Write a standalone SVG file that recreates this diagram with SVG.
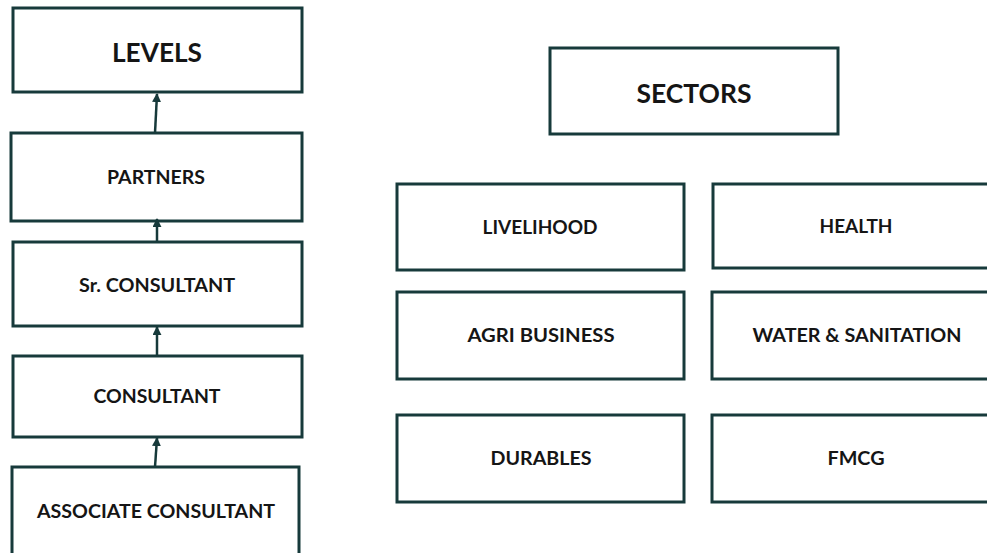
<svg xmlns="http://www.w3.org/2000/svg" width="987" height="553" viewBox="0 0 987 553">
  <style>
    .box { fill: #ffffff; stroke: #173a3b; stroke-width: 3; }
    .lbl { font-family: Lato, "Open Sans", "Liberation Sans", sans-serif; font-weight: 700; fill: #151515; text-anchor: middle; font-size: 19px; }
    .big { font-size: 27px; }
    .link { stroke: #173a3b; stroke-width: 2.5; fill: none; marker-end: url(#tip); }
  </style>
  <defs>
    <marker id="tip" viewBox="0 0 10 10" refX="9" refY="5" markerWidth="3.6" markerHeight="3.6" orient="auto" markerUnits="strokeWidth">
      <path d="M0,0 L10,5 L0,10 Z" fill="#173a3b"/>
    </marker>
  </defs>
  <rect width="987" height="553" fill="#ffffff"/>

  <!-- hierarchy of levels -->
  <g id="levels">
    <rect class="box" x="13" y="8" width="289" height="84"/>
    <text class="lbl big" x="157" y="62" textLength="90" lengthAdjust="spacingAndGlyphs">LEVELS</text>
  </g>
  <g id="partners">
    <rect class="box" x="11" y="133" width="291" height="88"/>
    <text class="lbl" x="156" y="184" textLength="98" lengthAdjust="spacingAndGlyphs">PARTNERS</text>
  </g>
  <g id="sr-consultant">
    <rect class="box" x="13" y="242" width="289" height="84"/>
    <text class="lbl" x="157" y="292" textLength="156" lengthAdjust="spacingAndGlyphs">Sr. CONSULTANT</text>
  </g>
  <g id="consultant">
    <rect class="box" x="13" y="356" width="289" height="81"/>
    <text class="lbl" x="157" y="403" textLength="127" lengthAdjust="spacingAndGlyphs">CONSULTANT</text>
  </g>
  <g id="associate-consultant">
    <rect class="box" x="12" y="467" width="287" height="100"/>
    <text class="lbl" x="156" y="518" textLength="238" lengthAdjust="spacingAndGlyphs">ASSOCIATE CONSULTANT</text>
  </g>

  <!-- sectors -->
  <g id="sectors">
    <rect class="box" x="550" y="48" width="288" height="86"/>
    <text class="lbl big" x="694" y="103" textLength="115" lengthAdjust="spacingAndGlyphs">SECTORS</text>
  </g>
  <g id="livelihood">
    <rect class="box" x="397" y="184" width="287" height="86"/>
    <text class="lbl" x="540" y="234" textLength="115" lengthAdjust="spacingAndGlyphs">LIVELIHOOD</text>
  </g>
  <g id="health">
    <rect class="box" x="713" y="184" width="288" height="84"/>
    <text class="lbl" x="856" y="233" textLength="73" lengthAdjust="spacingAndGlyphs">HEALTH</text>
  </g>
  <g id="agri-business">
    <rect class="box" x="397" y="292" width="287" height="87"/>
    <text class="lbl" x="541" y="342" textLength="147" lengthAdjust="spacingAndGlyphs">AGRI BUSINESS</text>
  </g>
  <g id="water-sanitation">
    <rect class="box" x="712" y="292" width="289" height="87"/>
    <text class="lbl" x="857" y="342" textLength="209" lengthAdjust="spacingAndGlyphs">WATER &amp; SANITATION</text>
  </g>
  <g id="durables">
    <rect class="box" x="397" y="415" width="287" height="87"/>
    <text class="lbl" x="541" y="465" textLength="101" lengthAdjust="spacingAndGlyphs">DURABLES</text>
  </g>
  <g id="fmcg">
    <rect class="box" x="712" y="415" width="289" height="87"/>
    <text class="lbl" x="856" y="465" textLength="57" lengthAdjust="spacingAndGlyphs">FMCG</text>
  </g>

  <!-- upward links between levels -->
  <g id="connectors">
    <line class="link" x1="155" y1="133" x2="157" y2="94"/>
    <line class="link" x1="157" y1="242" x2="157" y2="219"/>
    <line class="link" x1="157" y1="356" x2="157" y2="327"/>
    <line class="link" x1="155" y1="467" x2="157" y2="438"/>
  </g>
</svg>
